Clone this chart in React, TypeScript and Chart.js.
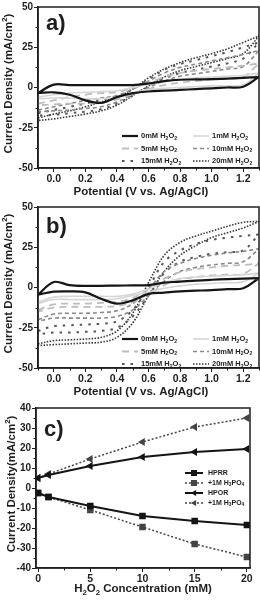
import React, { useEffect, useRef } from 'react';
import { Chart, registerables } from 'chart.js';
Chart.register(...registerables);

// ---------- DATA ----------
const potential = [-0.1, 0.0, 0.1, 0.2, 0.3, 0.4, 0.5, 0.6, 0.7, 0.8, 0.9, 1.0, 1.1, 1.2, 1.3];
const cvLabels = ['0mM H_2O_2', '1mM H_2O_2', '5mM H_2O_2', '10mM H_2O_2', '15mM H_2O_2', '20mM H_2O_2'];

// panel a) forward (upper) and reverse (lower) branches, mA/cm2
const aUp0 = [-3.4, 1.8, 1.5, 1.5, 1.5, 1.5, 1.5, 2.5, 4, 4.8, 5, 5.2, 5.5, 6, 6.5];
const aLow0 = [-3.4, -3, -4.5, -8, -9.5, -6, -3.5, -2.5, -2, -1.5, -1, -0.5, 0, 0.5, 6.5];
const aUp1 = [-6, -4.5, -3.5, -3, -2.5, -2, 0, 2, 3.5, 5, 6, 6.5, 7, 7.5, 9];
const aLow1 = [-7, -6.5, -6.5, -7, -7, -6, -3.5, -1.5, -0.5, 0, 0.5, 1, 1, 1.5, 9];
const aUp5 = [-10, -8, -6, -4.5, -3.5, -3, 0, 3, 6.5, 9, 10.5, 11.5, 12.5, 13.5, 15];
const aLow5 = [-11, -10.5, -10, -10, -9.5, -7.5, -4, -1, 1.5, 3, 4, 5, 5.5, 6.5, 15];
const aUp10 = [-14, -12, -10, -8, -6.5, -5, -1, 4, 9, 12.5, 14.5, 16.5, 18.5, 20.5, 23];
const aLow10 = [-15, -14.5, -14, -13, -12, -9, -4.5, 0, 4, 7, 8.5, 10, 11.5, 13, 23];
const aUp15 = [-16, -14, -12, -10, -7.5, -5.5, -1, 5, 11, 14.5, 17, 19.5, 22, 25, 28];
const aLow15 = [-17.5, -17, -16, -15, -13.5, -10, -5, 0.5, 5.5, 9, 11, 13, 15, 18, 28];
const aUp20 = [-19, -16.5, -14.5, -12, -9, -6, -1, 6, 11.5, 15.5, 18.5, 21, 24, 28, 32];
const aLow20 = [-20.5, -19.5, -18, -16.5, -14.5, -11, -5, 1, 6.5, 10.5, 13, 15.5, 18, 21, 32];

// panel b)
const bUp0 = [-4.4, 3.4, 1.5, 1, 1, 1.2, 1.3, 1.5, 3, 3.6, 4.3, 4.8, 5.2, 5.5, 5.8];
const bLow0 = [-4.4, -2.6, -2.4, -3, -7, -10, -8, -4, -3.2, -2.4, -2, -1.6, -1, -0.5, 5.8];
const bUp1 = [-9, -6, -5.5, -5.5, -5.5, -5.5, -4, -1, 3, 5.5, 6.5, 7, 7.5, 8, 9];
const bLow1 = [-10, -7.5, -7.5, -7.5, -7.5, -7, -5, -3, -0.5, 1, 2, 2.5, 3, 3.5, 9];
const bUp5 = [-14, -10.5, -10, -10, -9.5, -9, -6.5, -1, 5.5, 9.5, 11.5, 12.5, 13.5, 14, 15];
const bLow5 = [-15, -12.5, -12, -12, -12, -11.5, -9, -4, 1.5, 5, 6.5, 7.5, 8, 8.5, 15];
const bUp10 = [-20, -16.5, -16, -16, -15.5, -14.5, -10, -1, 10, 15, 18, 20, 21.5, 22.5, 24];
const bLow10 = [-21, -19, -19, -19, -19, -18, -14, -5, 4, 10, 12.5, 14, 15, 16, 24];
const bUp15 = [-27, -24, -23.5, -23, -22.5, -21, -14, 0, 16, 23, 27, 29.5, 31, 32, 33];
const bLow15 = [-29, -28, -28, -27.5, -27, -25, -18, -5, 9, 16, 19, 21, 22, 23, 33];
const bUp20 = [-35, -33, -32.5, -32, -31, -27, -16, 3, 20, 28, 32, 35, 38, 40.5, 41];
const bLow20 = [-36, -35.5, -35, -34.5, -34, -31, -22, -5, 10, 20, 26, 31, 34, 37, 41];

// panel c)
const concentration = [0, 1, 5, 10, 15, 20];
const hprr = [-2.5, -4.5, -9, -14, -16.5, -18.5];
const hprrAcid = [-2.5, -4.5, -11, -19.5, -28, -34.5];
const hpor = [5, 6.5, 11, 15.5, 18, 19.5];
const hporAcid = [5, 7, 14.5, 23, 30.5, 35];
const cLabels = ['HPRR', '+1M H_3PO_4', 'HPOR', '+1M H_3PO_4'];

// ticks
const cvXMajor = [0.0, 0.2, 0.4, 0.6, 0.8, 1.0, 1.2];
const cvXMinor = [-0.1, 0.1, 0.3, 0.5, 0.7, 0.9, 1.1, 1.3];
const cvYMajor = [-50, -25, 0, 25, 50];
const cvYMinor = [-37.5, -12.5, 12.5, 37.5];
const cXMajor = [0, 5, 10, 15, 20];
const cXMinor = [2.5, 7.5, 12.5, 17.5];
const cYMajor = [-40, -30, -20, -10, 0, 10, 20, 30, 40];
const cYMinor = [-35, -25, -15, -5, 5, 15, 25, 35];

// ---------- STYLE ----------
const FONT = '"Liberation Sans", Arial, Helvetica, sans-serif';
const INK = '#1e1e1e';
const cvStyles = [
  { color: '#151515', width: 2.2, dash: [] as number[] },
  { color: '#d6d6d6', width: 1.6, dash: [] as number[] },
  { color: '#bdbdbd', width: 1.8, dash: [7, 5] },
  { color: '#8a8a8a', width: 1.6, dash: [4, 3] },
  { color: '#555555', width: 2, dash: [2.5, 6] },
  { color: '#383838', width: 1.6, dash: [1.5, 1.5] },
];

function drawRich(ctx: CanvasRenderingContext2D, str: string, x: number, y: number, size: number, align: string, color = INK) {
  const segs: { t: string; mode: string; w: number }[] = [];
  let i = 0;
  while (i < str.length) {
    const c = str[i];
    if ((c === '_' || c === '^') && i + 1 < str.length) {
      segs.push({ t: str[i + 1], mode: c, w: 0 });
      i += 2;
    } else {
      let j = i;
      while (j < str.length && str[j] !== '_' && str[j] !== '^') j++;
      segs.push({ t: str.slice(i, j), mode: '', w: 0 });
      i = j;
    }
  }
  const f = (s: number) => `bold ${s.toFixed(1)}px ${FONT}`;
  let total = 0;
  segs.forEach((s) => {
    ctx.font = f(s.mode ? size * 0.68 : size);
    s.w = ctx.measureText(s.t).width;
    total += s.w;
  });
  let cx = align === 'center' ? x - total / 2 : align === 'right' ? x - total : x;
  ctx.textAlign = 'left';
  ctx.textBaseline = 'middle';
  ctx.fillStyle = color;
  segs.forEach((s) => {
    ctx.font = f(s.mode ? size * 0.68 : size);
    const dy = s.mode === '_' ? size * 0.3 : s.mode === '^' ? -size * 0.38 : 0;
    ctx.fillText(s.t, cx, y + dy);
    cx += s.w;
  });
}

function drawMarker(ctx: CanvasRenderingContext2D, style: string, x: number, y: number, r: number, color: string) {
  ctx.save();
  ctx.fillStyle = color;
  ctx.setLineDash([]);
  ctx.beginPath();
  if (style === 'rect') {
    ctx.rect(x - r, y - r, 2 * r, 2 * r);
  } else {
    ctx.moveTo(x - r * 1.1, y);
    ctx.lineTo(x + r * 0.7, y - r);
    ctx.lineTo(x + r * 0.7, y + r);
    ctx.closePath();
  }
  ctx.fill();
  ctx.restore();
}

// frame + minor ticks + texts + legend
const decorPlugin = {
  id: 'decor',
  afterDraw(chart: any, _args: any, opts: any) {
    const { ctx, chartArea } = chart;
    const { left, right, top, bottom } = chartArea;
    const xs = chart.scales.x;
    const ys = chart.scales.y;
    ctx.save();
    ctx.strokeStyle = INK;
    ctx.lineWidth = 1.5;
    ctx.setLineDash([]);
    ctx.strokeRect(left, top, right - left, bottom - top);
    ctx.lineWidth = 1;
    ctx.beginPath();
    (opts.xMinor || []).forEach((v: number) => {
      const p = Math.round(xs.getPixelForValue(v)) + 0.5;
      ctx.moveTo(p, bottom);
      ctx.lineTo(p, bottom + 2.5);
    });
    (opts.yMinor || []).forEach((v: number) => {
      const p = Math.round(ys.getPixelForValue(v)) + 0.5;
      ctx.moveTo(left, p);
      ctx.lineTo(left - 2.5, p);
    });
    ctx.stroke();

    // panel letter
    ctx.font = `bold 22px ${FONT}`;
    ctx.fillStyle = INK;
    ctx.textAlign = 'left';
    ctx.textBaseline = 'middle';
    ctx.fillText(opts.letter, left + 8, top + opts.letterDy);

    // axis titles
    drawRich(ctx, opts.xTitle, opts.xTitleX, opts.xTitleY, 11.5, 'center');
    ctx.save();
    ctx.translate(opts.yTitleX, (top + bottom) / 2 + opts.yTitleDy);
    ctx.rotate(-Math.PI / 2);
    drawRich(ctx, opts.yTitle, 0, 0, 11.5, 'center');
    ctx.restore();

    // legend
    const L = opts.legend;
    chart.data.datasets.forEach((ds: any, i: number) => {
      const col = L.cols === 2 ? i % 2 : 0;
      const row = L.cols === 2 ? Math.floor(i / 2) : i;
      const x0 = L.x + col * L.colW;
      const y0 = L.y + row * L.rowH;
      ctx.save();
      ctx.strokeStyle = ds.borderColor;
      ctx.lineWidth = ds.borderWidth;
      ctx.setLineDash(ds.borderDash || []);
      ctx.beginPath();
      ctx.moveTo(x0, y0);
      ctx.lineTo(x0 + L.sample, y0);
      ctx.stroke();
      ctx.restore();
      if (ds.pointRadius > 0) {
        drawMarker(ctx, ds.pointStyle, x0 + L.sample / 2, y0, 3, ds.pointBackgroundColor);
      }
      drawRich(ctx, L.labels[i], x0 + L.sample + L.gap, y0, L.font, 'left');
    });
    ctx.restore();
  },
};

function loop(up: number[], low: number[]) {
  const fwd = potential.map((x, i) => ({ x, y: up[i] }));
  const rev = potential.map((x, i) => ({ x, y: low[i] })).reverse();
  return [...fwd, ...rev];
}

function axisCommon(major: number[], fmt: (v: number) => string, size: number, fit: (s: any) => void) {
  return {
    type: 'linear',
    afterBuildTicks: (s: any) => {
      s.ticks = major.map((value) => ({ value }));
    },
    afterFit: fit,
    grid: { drawOnChartArea: false, drawTicks: true, tickLength: 4, color: INK, lineWidth: 1 },
    border: { display: true, color: INK, width: 1.5 },
    ticks: {
      autoSkip: false,
      maxRotation: 0,
      padding: 1,
      color: INK,
      font: { family: FONT, size, weight: 'bold' },
      callback: (v: any) => fmt(Number(v)),
    },
  };
}

function cvConfig(ups: number[][], lows: number[][], letter: string, canvasH: number, padTop: number, plotBottom: number, xTitleY: number, legendY: number, letterDy: number) {
  return {
    type: 'scatter',
    data: {
      datasets: ups.map((u, i) => ({
        label: cvLabels[i],
        data: loop(u, lows[i]),
        showLine: true,
        borderColor: cvStyles[i].color,
        borderWidth: cvStyles[i].width,
        borderDash: cvStyles[i].dash,
        pointRadius: 0,
        tension: 0.35,
        fill: false,
      })),
    },
    options: {
      responsive: false,
      animation: false,
      events: [],
      layout: { padding: { left: 0, right: 1, top: padTop, bottom: 0 } },
      plugins: {
        legend: { display: false },
        tooltip: { enabled: false },
        decor: {
          letter,
          letterDy,
          xMinor: cvXMinor,
          yMinor: cvYMinor,
          xTitle: 'Potential (V vs. Ag/AgCl)',
          xTitleX: 141,
          xTitleY,
          yTitle: 'Current Density (mA/cm^2)',
          yTitleX: 9,
          yTitleDy: -4,
          legend: { cols: 2, x: 122, y: legendY, colW: 71, rowH: 12.5, sample: 16, gap: 3, font: 7.5, labels: cvLabels },
        },
      },
      scales: {
        x: {
          ...axisCommon(cvXMajor, (v) => v.toFixed(1), 10.5, (s: any) => { s.height = canvasH - plotBottom; }),
          min: -0.1,
          max: 1.3,
        },
        y: {
          ...axisCommon(cvYMajor, (v) => String(v), 10, (s: any) => { s.width = 38; }),
          min: -50,
          max: 50,
        },
      },
    },
    plugins: [decorPlugin],
  };
}

function cConfig() {
  const mk = (label: string, ys: number[], color: string, mcolor: string, dash: number[], style: string, w: number) => ({
    label,
    data: concentration.map((x, i) => ({ x, y: ys[i] })),
    showLine: true,
    borderColor: color,
    borderWidth: w,
    borderDash: dash,
    pointStyle: style,
    rotation: style === 'triangle' ? -90 : 0,
    pointRadius: 4.6,
    pointBackgroundColor: mcolor,
    pointBorderColor: mcolor,
    pointBorderWidth: 0,
    tension: 0,
  });
  return {
    type: 'scatter',
    data: {
      datasets: [
        mk(cLabels[0], hprr, '#141414', '#141414', [], 'rect', 2),
        mk(cLabels[1], hprrAcid, '#444444', '#444444', [2, 2], 'rect', 1.5),
        mk(cLabels[2], hpor, '#141414', '#141414', [], 'triangle', 2),
        mk(cLabels[3], hporAcid, '#444444', '#444444', [2, 2], 'triangle', 1.5),
      ],
    },
    options: {
      responsive: false,
      animation: false,
      events: [],
      layout: { padding: { left: 0, right: 10, top: 11, bottom: 0 } },
      plugins: {
        legend: { display: false },
        tooltip: { enabled: false },
        decor: {
          letter: 'c)',
          letterDy: 22,
          xMinor: cXMinor,
          yMinor: cYMinor,
          xTitle: 'H_2O_2 Concentration (mM)',
          xTitleX: 143,
          xTitleY: 192,
          yTitle: 'Current Density(mA/cm^2)',
          yTitleX: 12,
          yTitleDy: -4,
          legend: { cols: 1, x: 185, y: 76, colW: 0, rowH: 10, sample: 18, gap: 5, font: 7, labels: cLabels },
        },
      },
      scales: {
        x: {
          ...axisCommon(cXMajor, (v) => String(v), 10.5, (s: any) => { s.height = 36; }),
          min: -0.2,
          max: 20.3,
        },
        y: {
          ...axisCommon(cYMajor, (v) => String(v), 10, (s: any) => { s.width = 36; }),
          min: -40,
          max: 40,
        },
      },
    },
    plugins: [decorPlugin],
  };
}

export default function App() {
  const refA = useRef<HTMLCanvasElement>(null);
  const refB = useRef<HTMLCanvasElement>(null);
  const refC = useRef<HTMLCanvasElement>(null);

  useEffect(() => {
    const charts: Chart[] = [];
    charts.push(
      new Chart(
        refA.current as HTMLCanvasElement,
        cvConfig([aUp0, aUp1, aUp5, aUp10, aUp15, aUp20], [aLow0, aLow1, aLow5, aLow10, aLow15, aLow20], 'a)', 197, 7, 168, 192, 136, 17) as any
      )
    );
    charts.push(
      new Chart(
        refB.current as HTMLCanvasElement,
        cvConfig([bUp0, bUp1, bUp5, bUp10, bUp15, bUp20], [bLow0, bLow1, bLow5, bLow10, bLow15, bLow20], 'b)', 200, 10, 171, 195, 142, 20) as any
      )
    );
    charts.push(new Chart(refC.current as HTMLCanvasElement, cConfig() as any));
    return () => charts.forEach((c) => c.destroy());
  }, []);

  const box = (top: number, h: number): React.CSSProperties => ({ position: 'absolute', left: 0, top, width: 260, height: h });
  return (
    <div style={{ position: 'absolute', left: 0, top: 0, width: 260, height: 604, background: '#fff', overflow: 'hidden' }}>
      <div style={box(0, 197)}>
        <canvas ref={refA} width={260} height={197} style={{ display: 'block', width: 260, height: 197 }} />
      </div>
      <div style={box(197, 200)}>
        <canvas ref={refB} width={260} height={200} style={{ display: 'block', width: 260, height: 200 }} />
      </div>
      <div style={box(397, 207)}>
        <canvas ref={refC} width={260} height={207} style={{ display: 'block', width: 260, height: 207 }} />
      </div>
    </div>
  );
}
